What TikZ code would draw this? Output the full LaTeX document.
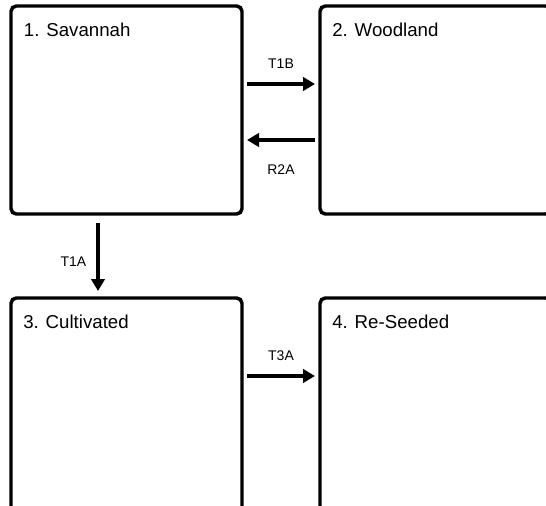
\documentclass[tikz,border=0pt]{standalone}
\usepackage{fontspec}
\setmainfont{Liberation Sans}
\usetikzlibrary{arrows.meta}

\begin{document}
\begin{tikzpicture}[x=0.75pt, y=-0.75pt,
        box/.style={draw, line width=2.6pt, rounded corners=4pt, inner sep=0pt, outer sep=0pt,
            anchor=north west, minimum width=173.25pt, minimum height=156pt},
        tall/.style={minimum height=172pt},
        title/.style={anchor=base west, inner sep=0pt, font=\fontsize{14}{16}\selectfont},
        lbl/.style={inner sep=0pt, font=\fontsize{10.5}{12}\selectfont},
        arr/.style={-{Triangle[length=9pt, width=10pt]}, line width=2.5pt}]
        \useasboundingbox (0,0) rectangle (546,506);
        \clip (0,0) rectangle (546,506);

        \node[box] (s1) at (11,6) {};
        \node[box] (s2) at (320,6) {};
        \node[box, tall] (s3) at (11,298) {};
        \node[box, tall] (s4) at (320,298) {};

        \node[title] (n1) at ([xshift=9.5pt, yshift=-23.25pt]s1.north west) {1. Savannah};
        \node[title] (n2) at ([xshift=9pt, yshift=-23.25pt]s2.north west) {2. Woodland};
        \node[title] (n3) at ([xshift=9pt, yshift=-23pt]s3.north west) {3. Cultivated};
        \node[title] (n4) at ([xshift=9pt, yshift=-23pt]s4.north west) {4. Re-Seeded};

        \draw[arr, shorten <=3.75pt, shorten >=3.75pt] ([yshift=-58.5pt]s1.north east) -- ([yshift=-58.5pt]s2.north west)
            node[lbl, midway, above=10.5pt] (l1) {T1B};
        \draw[arr, shorten <=3.75pt, shorten >=3.75pt] ([yshift=-100.5pt]s2.north west) -- ([yshift=-100.5pt]s1.north east)
            node[lbl, midway, below=17pt] (l2) {R2A};
        %%
        \draw[arr, shorten <=6.75pt, shorten >=5.25pt] ([xshift=65.25pt]s1.south west) -- ([xshift=65.25pt]s3.north west)
            node[lbl, pos=0.57, left=7.5pt] (l3) {T1A};
        \draw[arr, shorten <=3.75pt, shorten >=3.75pt] ([yshift=-58.5pt]s3.north east) -- ([yshift=-58.5pt]s4.north west)
            node[lbl, midway, above=10.5pt] (l4) {T3A};
    \end{tikzpicture}
\end{document}
